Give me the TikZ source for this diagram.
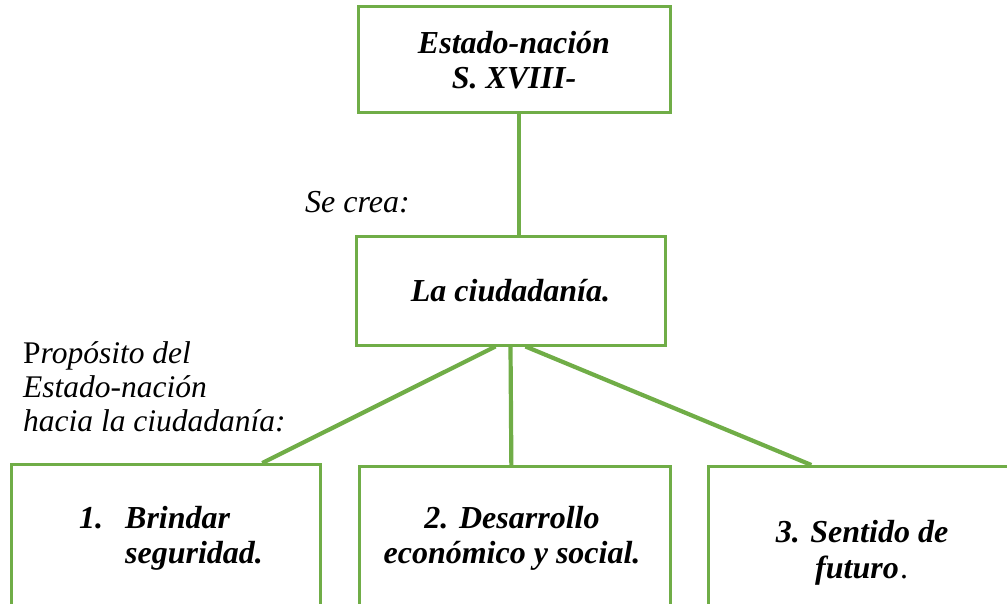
\documentclass[tikz,border=0pt]{standalone}
\usepackage{fontspec}
\setmainfont{Liberation Serif}
\usepackage{xcolor}
\usetikzlibrary{positioning, calc}
\definecolor{egreen}{HTML}{70AD47}
\newcommand{\mapfont}{\fontsize{32}{35}\selectfont}
\tikzset{
  framebox/.style={draw=egreen, line width=3pt, fill=white, align=center,
                   font=\mapfont\bfseries\itshape, inner sep=0pt},
  lowbox/.style={draw=egreen, line width=3pt, anchor=north, minimum height=300pt},
  lowtext/.style={font=\mapfont\bfseries\itshape, inner sep=0pt, anchor=north},
  note/.style={font=\mapfont\itshape, inner sep=0pt, align=left},
  link/.style={draw=egreen, line width=4.2pt},
}

\begin{document}
\begin{tikzpicture}[x=1pt, y=-1pt]

  \useasboundingbox (0,0) rectangle (1007,604);

  % upper boxes
  \node[framebox, minimum width=312pt, minimum height=106pt] (estado) at (514,60)
    {Estado-nación\\S. XVIII-};
  \node[framebox, minimum width=309pt, minimum height=108pt] (ciudad) at (510.5,291)
    {La ciudadanía.};

  \node[note, anchor=base west] (crea) at (305,213) {Se crea:};
  \node[note, anchor=north west, font=\fontsize{31.5}{34}\selectfont\itshape] (prop) at (23,341)
    {{\upshape P}ropósito del\\Estado-nación\\hacia la ciudadanía:};

  % lower boxes, cut off by the page
  \node[lowbox, minimum width=309pt] (seg) at (165.5,463) {};
  \node[lowbox, minimum width=311pt] (desa) at (514.5,465) {};
  \node[lowbox, minimum width=310pt] (fut) at (863,465) {};

  \node[lowtext, anchor=north west, align=left] (segtxt) at (79,506)
    {\makebox[46pt][l]{1.}Brindar\\\hspace*{46pt}seguridad.};
  \node[lowtext, align=center] (desatxt) at (512,506)
    {2. Desarrollo\\económico y social.};
  \node[lowtext, align=center, font=\fontsize{32}{36}\selectfont\bfseries\itshape] (futtxt) at (862,520)
    {3. Sentido de\\futuro{\mdseries\kern2pt.}};

  % connectors
  \draw[link] ([xshift=5pt]estado.south) -- ([xshift=5pt]estado.south |- ciudad.north);
  \draw[link] ([xshift=-15pt]ciudad.south) -- ($(seg.north west)!0.81!(seg.north east)$);
  \draw[link] (ciudad.south) -- ($(desa.north west)!0.49!(desa.north east)$);
  \draw[link] ([xshift=15pt]ciudad.south) -- ($(fut.north west)!0.335!(fut.north east)$);

\end{tikzpicture}
\end{document}
